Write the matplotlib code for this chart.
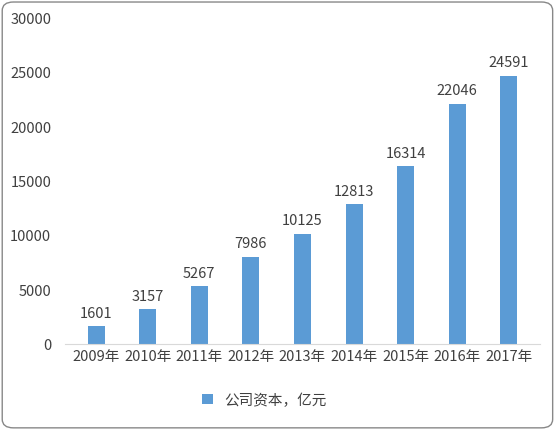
import matplotlib
matplotlib.use("Agg")
import matplotlib.pyplot as plt
from matplotlib.patches import FancyBboxPatch

plt.rcParams['font.family'] = ['Noto Sans CJK SC', 'DejaVu Sans']

years = ["2009年", "2010年", "2011年", "2012年", "2013年", "2014年", "2015年", "2016年", "2017年"]
capital = [1601, 3157, 5267, 7986, 10125, 12813, 16314, 22046, 24591]
series_name = "公司资本，亿元"

fig = plt.figure(figsize=(5.56, 4.31), dpi=100)
fig.patches.append(FancyBboxPatch((0.004, 0.005), 0.99, 0.988, boxstyle="round,pad=0,rounding_size=0.02",
                                  transform=fig.transFigure, fill=False, edgecolor="#888888", linewidth=1))
ax = fig.add_axes([0.117, 0.2, 0.854, 0.758])

x = range(len(years))
ax.bar(x, capital, width=0.33, color="#5B9BD5", label=series_name)
for xi, v in zip(x, capital):
    ax.text(xi, v + 600, str(v), ha="center", va="bottom", fontsize=10.5, color="#404040")

ax.set_ylim(0, 30000)
ax.set_yticks(range(0, 30001, 5000))
ax.set_xlim(-0.6, len(years) - 0.4)
ax.set_xticks(list(x))
ax.set_xticklabels(years)
ax.tick_params(axis="both", length=0, labelsize=10.5, colors="#404040")
ax.tick_params(axis="y", pad=10)
for s in ["top", "right", "left"]:
    ax.spines[s].set_visible(False)
ax.spines["bottom"].set_color("#d9d9d9")

ax.legend(loc="upper center", bbox_to_anchor=(0.42, -0.11), frameon=False, fontsize=10.5,
          handlelength=0.7, handleheight=0.7, labelcolor="#404040")

fig.savefig("out.png", dpi=100)
